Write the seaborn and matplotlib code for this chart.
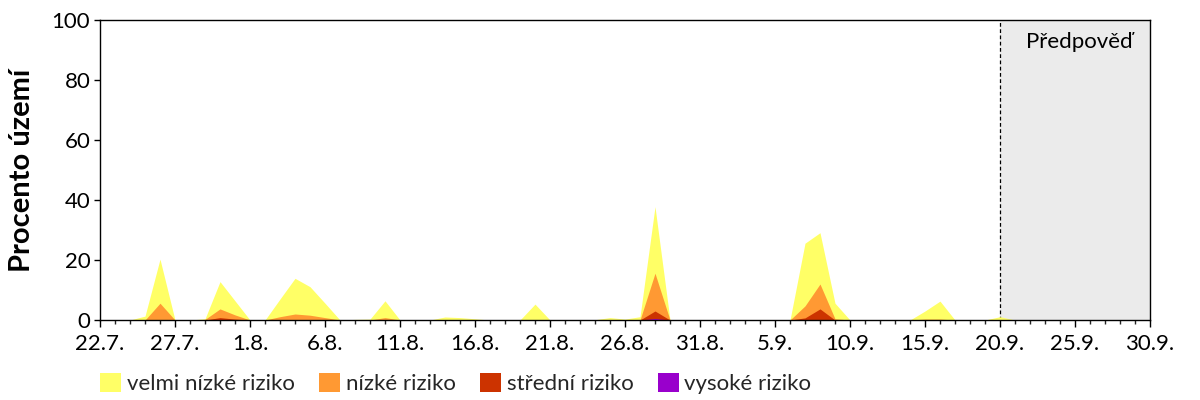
import matplotlib
matplotlib.use("Agg")
import matplotlib.pyplot as plt
from matplotlib.patches import Patch
from matplotlib.ticker import MultipleLocator
import numpy as np
import pandas as pd
import seaborn as sns

# ── data: one value per day, day 0 = 22.7. ─────────────────────────────────
velmi_nizke = [0, 0, 0, 1.3, 14.7, 0, 0, 0.2, 9.1, 4.7,
               0, 0, 5.9, 11.9, 9.5, 4.8, 0, 0.2, 0.3, 5.6,
               0, 0, 0, 1.0, 0.8, 0.4, 0, 0, 0, 5.3,
               0, 0, 0, 0.1, 0.8, 0.3, 1.1, 22.2, 0, 0,
               0, 0, 0, 0, 0, 0, 0, 20.9, 17.1, 5.2,
               0, 0, 0, 0, 0, 2.7, 6.0, 0, 0, 0,
               1.1, 0]
nizke = [0, 0, 0, 0, 5.6, 0, 0, 0.2, 2.9, 1.4,
         0, 0, 1.1, 2.0, 1.6, 0.8, 0, 0, 0, 0.8,
         0, 0, 0, 0, 0, 0, 0, 0, 0, 0,
         0, 0, 0, 0, 0, 0, 0, 12.6, 0, 0,
         0, 0, 0, 0, 0, 0, 0, 4.0, 8.3, 0.4,
         0, 0, 0, 0, 0, 0.3, 0.3, 0, 0, 0,
         0, 0]
stredni = [0, 0, 0, 0, 0, 0, 0, 0, 0.8, 0.3,
           0, 0, 0, 0, 0, 0, 0, 0, 0, 0,
           0, 0, 0, 0, 0, 0, 0, 0, 0, 0,
           0, 0, 0, 0, 0, 0, 0, 2.5, 0, 0,
           0, 0, 0, 0, 0, 0, 0, 0.7, 3.7, 0,
           0, 0, 0, 0, 0, 0, 0, 0, 0, 0,
           0, 0]
vysoke = [0] * 37 + [0.5] + [0] * 24

kategorie = ["velmi nízké riziko", "nízké riziko", "střední riziko", "vysoké riziko"]
barvy = ["#FFFF66", "#FF9933", "#CC3300", "#9900CC"]

tick_labels = ["22.7.", "27.7.", "1.8.", "6.8.", "11.8.", "16.8.", "21.8.",
               "26.8.", "31.8.", "5.9.", "10.9.", "15.9.", "20.9.", "25.9.", "30.9."]
predpoved_od = 60   # 20.9.
posledni_den = 70   # 30.9.

df = pd.DataFrame({
    "den": np.arange(len(velmi_nizke)),
    kategorie[0]: velmi_nizke,
    kategorie[1]: nizke,
    kategorie[2]: stredni,
    kategorie[3]: vysoke,
})

# ── plot ───────────────────────────────────────────────────────────────────
sns.set_theme(style="ticks")
plt.rcParams["font.family"] = ["Lato", "DejaVu Sans"]
FS = 16

fig = plt.figure(figsize=(12, 4), dpi=100)
ax = fig.add_axes([100 / 1200, 80 / 400, 1050 / 1200, 300 / 400])

# forecast area
ax.axvspan(predpoved_od, posledni_den, color="#EBEBEB", lw=0, zorder=0)
ax.axvline(predpoved_od, color="black", lw=0.9, ls=(0, (3, 2)), zorder=1)
ax.text(65.3, 92.7, "Předpověď", ha="center", va="center", fontsize=FS, color="black")

# stacked areas: each fill reaches the sum of its own and all higher risk levels
for idx, barva in enumerate(barvy):
    top = df[kategorie[idx:]].sum(axis=1)
    ax.fill_between(df["den"], 0, top, color=barva, lw=0, zorder=2)

ax.set_xlim(0, posledni_den)
ax.set_ylim(0, 100)
ax.set_xticks(np.arange(0, posledni_den + 1, 5))
ax.set_xticklabels(tick_labels)
ax.xaxis.set_minor_locator(MultipleLocator(1))
ax.set_yticks(np.arange(0, 101, 20))

ax.tick_params(axis="x", which="major", length=5, width=1, direction="out",
               labelsize=FS, pad=5, colors="black")
ax.tick_params(axis="x", which="minor", length=3, width=1, direction="out")
ax.tick_params(axis="y", which="major", length=4, width=1, direction="out",
               labelsize=FS, pad=3, colors="black")
for s in ax.spines.values():
    s.set_color("black")
    s.set_linewidth(1)

ax.set_ylabel("Procento území", fontsize=21, fontweight="bold", color="black")
ax.yaxis.set_label_coords(-0.062, 0.5)

handles = [Patch(facecolor=b, edgecolor="none") for b in barvy]
fig.legend(handles, kategorie, loc="center left", bbox_to_anchor=(100 / 1200, 0.041),
           ncol=4, frameon=False, fontsize=FS, handlelength=0.95, handleheight=0.95,
           handletextpad=0.25, columnspacing=1.1, borderpad=0, borderaxespad=0)

fig.savefig("out.png", dpi=100, facecolor="white")
